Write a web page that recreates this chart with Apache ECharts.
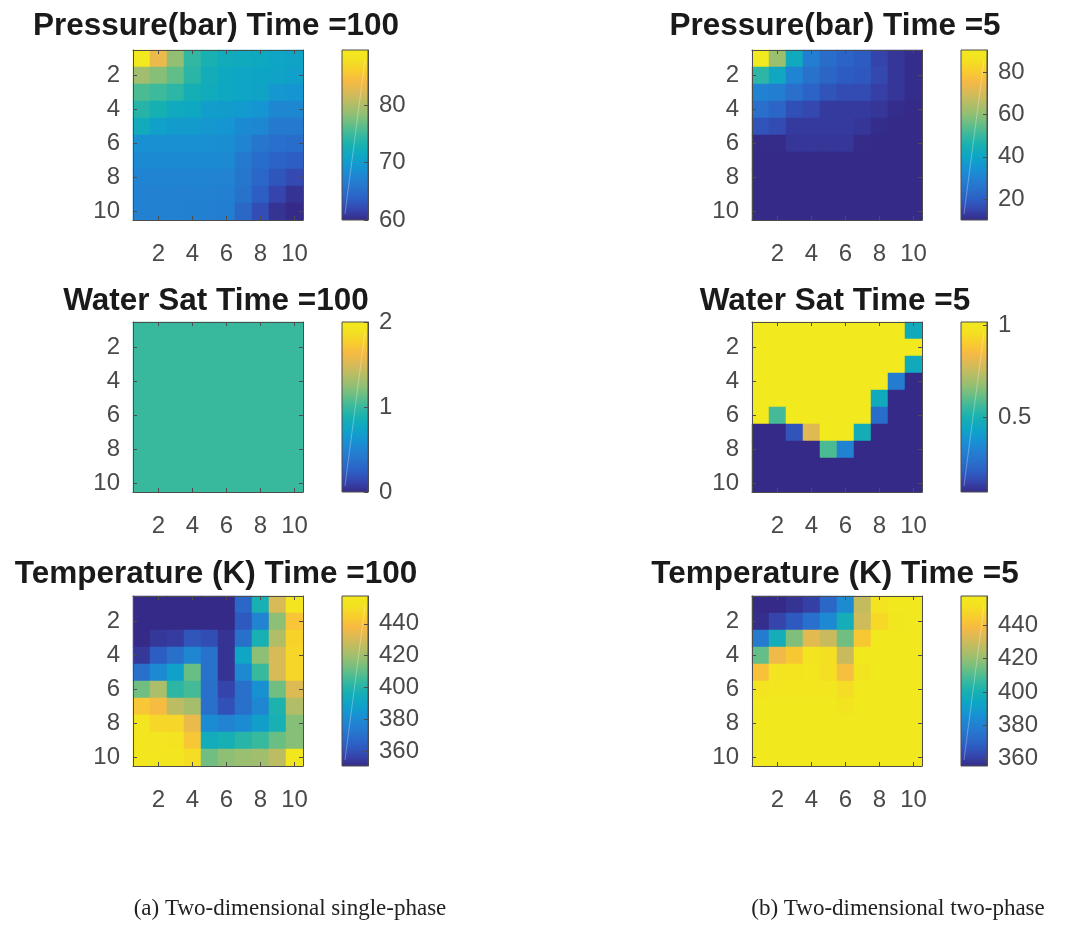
<!DOCTYPE html>
<html><head><meta charset="utf-8">
<script src="https://cdn.jsdelivr.net/npm/echarts@6/dist/echarts.min.js"></script>
<style>html,body{margin:0;padding:0;background:#fff}#c{width:1065px;height:925px}</style>
</head><body><div id="c"></div>
<script>
// ---------- data ----------
const cells = ['1','2','3','4','5','6','7','8','9','10'];

const titles = ['Pressure(bar) Time =100','Pressure(bar) Time =5','Water Sat Time =100','Water Sat Time =5','Temperature (K) Time =100','Temperature (K) Time =5'];
const captions = ['(a) Two-dimensional single-phase','(b) Two-dimensional two-phase'];

const pressure100 = [
 [89.6,83.4,78.6,74.4,73.0,72.0,71.7,71.4,71.1,70.8],
 [79.2,78.0,76.5,74.0,72.3,71.4,71.1,71.0,70.8,70.5],
 [75.6,75.0,74.1,72.6,72.0,71.4,71.1,70.8,69.6,69.3],
 [73.8,72.9,71.7,71.4,70.2,70.0,69.8,69.3,67.8,67.8],
 [72.0,70.5,70.0,69.9,69.6,69.3,68.1,67.8,66.3,66.3],
 [68.7,68.7,68.7,68.7,68.7,68.6,67.5,66.0,65.4,65.1],
 [68.1,68.1,68.1,68.1,68.1,68.0,66.3,65.1,64.2,63.6],
 [67.5,67.5,67.5,67.5,67.5,67.4,66.0,64.5,63.0,62.1],
 [67.2,67.2,67.2,67.2,67.2,67.0,65.7,63.6,61.8,60.6],
 [67.2,67.2,67.2,67.1,67.0,66.8,64.5,62.4,60.6,60.0]
];
const pressure5 = [
 [90.4,61.5,42.0,28.5,23.7,21.3,19.6,14.8,12.4,10.8],
 [48.6,41.4,30.9,25.3,22.0,19.6,18.8,15.6,12.4,10.8],
 [30.0,28.5,24.5,21.3,18.0,16.4,16.4,14.0,12.4,10.8],
 [24.5,22.0,17.2,15.6,13.2,13.2,13.2,12.4,10.8,10.2],
 [18.0,16.4,13.2,13.2,13.2,13.2,12.4,10.8,10.2,10.2],
 [10.3,10.3,12.4,12.4,12.4,12.4,10.3,10.2,10.2,10.2],
 [10.2,10.2,10.2,10.2,10.2,10.2,10.2,10.2,10.2,10.2],
 [10.2,10.2,10.2,10.2,10.2,10.2,10.2,10.2,10.2,10.2],
 [10.2,10.2,10.2,10.2,10.2,10.2,10.2,10.2,10.2,10.2],
 [10.2,10.2,10.2,10.2,10.2,10.2,10.2,10.2,10.2,10.2]
];
const waterSat100 = [
 [1,1,1,1,1,1,1,1,1,1],[1,1,1,1,1,1,1,1,1,1],[1,1,1,1,1,1,1,1,1,1],[1,1,1,1,1,1,1,1,1,1],[1,1,1,1,1,1,1,1,1,1],
 [1,1,1,1,1,1,1,1,1,1],[1,1,1,1,1,1,1,1,1,1],[1,1,1,1,1,1,1,1,1,1],[1,1,1,1,1,1,1,1,1,1],[1,1,1,1,1,1,1,1,1,1]
];
const waterSat5 = [
 [1.02,1.02,1.02,1.02,1.02,1.02,1.02,1.02,1.02,0.46],
 [1.02,1.02,1.02,1.02,1.02,1.02,1.02,1.02,1.02,1.02],
 [1.02,1.02,1.02,1.02,1.02,1.02,1.02,1.02,1.02,0.46],
 [1.02,1.02,1.02,1.02,1.02,1.02,1.02,1.02,0.30,0.09],
 [1.02,1.02,1.02,1.02,1.02,1.02,1.02,0.46,0.09,0.09],
 [1.02,0.57,1.02,1.02,1.02,1.02,1.02,0.25,0.09,0.09],
 [0.09,0.09,0.18,0.80,1.02,1.02,0.48,0.09,0.09,0.09],
 [0.09,0.09,0.09,0.09,0.58,0.32,0.09,0.09,0.09,0.09],
 [0.09,0.09,0.09,0.09,0.09,0.09,0.09,0.09,0.09,0.09],
 [0.09,0.09,0.09,0.09,0.09,0.09,0.09,0.09,0.09,0.09]
];
const temp100 = [
 [351,351,351,351,351,351,367,397.6,430.5,454],
 [351,351,351,351,351,351,362.7,377.5,416.7,441],
 [351,354,355,361.6,359.5,353,370,397.6,423,446],
 [354,363.7,370,378.5,371,353,391,416.7,430.5,447],
 [370,379.6,389,411.4,371,353,379.6,404,430.5,447],
 [412.5,422,402,406,370,357,370,382.8,412.5,431.5],
 [442,438,425,421,370,360.5,370,378.5,398.7,423],
 [454,447,447,434.7,380.7,377.5,380.7,388,397.6,415.7],
 [455,454,452,442,394.5,396.6,401,404,411.4,415.7],
 [456,456,454,449.5,412.5,416.7,419,420,425,456]
];
const temp5 = [
 [355.7,355.7,357.7,360.8,371,384,428,452.4,456.5,456.5],
 [356.7,361.8,366.9,374,383.2,398.5,430,448.3,455.5,456.5],
 [378,398.5,416.8,434,429,414.7,443.2,456.5,456.5,457],
 [412.7,437,443.2,453.4,450.4,429,456.5,456.5,456.5,456.5],
 [441.2,452.4,454.5,455.5,450.4,440,454.5,456.5,456.5,456.5],
 [454.5,456,456,456,456,449.4,456.5,456.5,456.5,456.5],
 [456.5,456.5,456.5,456.5,456.5,454.5,456.5,456.5,456.5,456.5],
 [457,457,457,457,457,456.5,457,457,457,457],
 [457,457,457,457,457,457,457,457,457,457],
 [457,457,457,457,457,457,457,457,457,457]
];

// colour limits and colour-bar ticks
const pressure100Range = [60, 89.6];
const pressure5Range = [10.2, 90.4];
const waterSat100Range = [0, 2];
const waterSat5Range = [0.09, 1.02];
const temp100Range = [350.9, 457.4];
const temp5Range = [355.7, 457.5];

const pressure100Ticks = [60,70,80];
const pressure5Ticks = [20,40,60,80];
const waterSat100Ticks = [0,1,2];
const waterSat5Ticks = [0.5,1];
const temp100Ticks = [360,380,400,420,440];
const temp5Ticks = [360,380,400,420,440];

// ---------- styling / layout ----------
const parula = ['#352a87','#3546ae','#2c5fc4','#2872cc','#2183d2','#1595d2','#0ea6c4','#17b0b2','#38b99e','#65be86','#92bf73','#b7bd64','#d9ba56','#f6ba44','#f9cd2e','#f3e121','#f2e91e'];
const FONT = "'Liberation Sans', Arial, Helvetica, sans-serif";
const AX = '#4d4d4d';
const TXT = '#4a4a4a';

const panels = [
 {m: pressure100, r: pressure100Range, t: pressure100Ticks},
 {m: pressure5, r: pressure5Range, t: pressure5Ticks},
 {m: waterSat100, r: waterSat100Range, t: waterSat100Ticks},
 {m: waterSat5, r: waterSat5Range, t: waterSat5Ticks},
 {m: temp100, r: temp100Range, t: temp100Ticks},
 {m: temp5, r: temp5Range, t: temp5Ticks}
];
const colLeft = [133, 752];
const cbLeft = [342, 961];
const rowTop = [50, 322, 596];
const SZ = 170;
const CBW = 26;
const titleY = [23, 298, 571];

const even = (idx) => idx % 2 === 1;

const grid = [], xAxis = [], yAxis = [], series = [], visualMap = [], title = [];

panels.forEach((p, i) => {
  const col = i % 2, row = Math.floor(i / 2);
  grid.push({left: colLeft[col], top: rowTop[row], width: SZ, height: SZ, containLabel: false, outerBoundsMode: 'none'});
});
panels.forEach((p, i) => {
  const col = i % 2, row = Math.floor(i / 2);
  grid.push({left: cbLeft[col], top: rowTop[row], width: CBW, height: SZ, containLabel: false, outerBoundsMode: 'none'});
});

panels.forEach((p, i) => {
  const lineS = {show: true, onZero: false, lineStyle: {color: AX, width: 1}};
  const tickS = {show: true, inside: true, length: 4, alignWithLabel: true, interval: even, lineStyle: {color: AX}};
  xAxis.push({type: 'category', gridIndex: i, data: cells, position: 'bottom', z: 5, axisLine: lineS, axisTick: tickS,
    axisLabel: {interval: even, fontSize: 24, color: TXT, margin: 22, fontFamily: FONT}, splitLine: {show: false}});
  xAxis.push({type: 'category', gridIndex: i, data: cells, position: 'top', z: 5, axisLine: lineS, axisTick: tickS,
    axisLabel: {show: false}, splitLine: {show: false}});
  yAxis.push({type: 'category', gridIndex: i, data: cells, inverse: true, position: 'left', z: 5, axisLine: lineS, axisTick: tickS,
    axisLabel: {interval: even, fontSize: 24, color: TXT, margin: 13, fontFamily: FONT}, splitLine: {show: false}});
  yAxis.push({type: 'category', gridIndex: i, data: cells, inverse: true, position: 'right', z: 5, axisLine: lineS, axisTick: tickS,
    axisLabel: {show: false}, splitLine: {show: false}});
});
panels.forEach((p, i) => {
  xAxis.push({type: 'value', gridIndex: 6 + i, min: 0, max: 1, show: false});
  yAxis.push({type: 'value', gridIndex: 6 + i, min: p.r[0], max: p.r[1], position: 'right', z: 5,
    axisLine: {show: true, onZero: false, lineStyle: {color: AX}},
    axisTick: {show: true, inside: true, length: 4, customValues: p.t, lineStyle: {color: AX}},
    axisLabel: {customValues: p.t, fontSize: 24, color: TXT, margin: 11, fontFamily: FONT},
    splitLine: {show: false}});
});

const stops = parula.map((c, k) => ({offset: k / (parula.length - 1), color: c}));

panels.forEach((p, i) => {
  const data = [];
  p.m.forEach((rowVals, r) => rowVals.forEach((v, c) => data.push([c, r, v])));
  series.push({type: 'heatmap', xAxisIndex: 2 * i, yAxisIndex: 2 * i, data: data, z: 1,
    emphasis: {disabled: true}, itemStyle: {borderWidth: 0}, silent: true});
  visualMap.push({type: 'continuous', show: false, seriesIndex: i, dimension: 2, min: p.r[0], max: p.r[1],
    inRange: {color: parula}});
});
panels.forEach((p, i) => {
  series.push({type: 'custom', xAxisIndex: 12 + i, yAxisIndex: 12 + i, silent: true, z: 1,
    data: [[0, p.r[0], p.r[1]]], encode: {x: 0, y: [1, 2]},
    renderItem: function (params, api) {
      const a = api.coord([0, api.value(1)]);
      const b = api.coord([1, api.value(2)]);
      return {type: 'group', children: [
        {type: 'rect', shape: {x: a[0], y: b[1], width: b[0] - a[0], height: a[1] - b[1]},
          style: {fill: new echarts.graphic.LinearGradient(0, 1, 0, 0, stops), stroke: AX, lineWidth: 1}},
        {type: 'line', shape: {x1: a[0] + 3, y1: a[1] - 6, x2: b[0] - 3, y2: b[1] + 10},
          style: {stroke: 'rgba(255,255,255,0.3)', lineWidth: 1}}
      ]};
    }});
});

titles.forEach((t, i) => {
  const col = i % 2, row = Math.floor(i / 2);
  title.push({text: t, left: colLeft[col] + SZ / 2 - 2, textAlign: 'center', top: titleY[row] - 13, padding: 0,
    textStyle: {fontSize: 31.5, fontWeight: 'bold', color: '#1a1a1a', fontFamily: FONT}});
});
captions.forEach((t, i) => {
  title.push({text: t, left: [290, 898][i], textAlign: 'center', top: 897, padding: 0,
    textStyle: {fontSize: 23, fontWeight: 'normal', color: '#222', fontFamily: "'Liberation Serif', 'DejaVu Serif', serif"}});
});

const chart = echarts.init(document.getElementById('c'), null, {renderer: 'canvas'});
chart.setOption({animation: false, backgroundColor: '#fff', title, grid, xAxis, yAxis, visualMap, series});
</script>
</body></html>
